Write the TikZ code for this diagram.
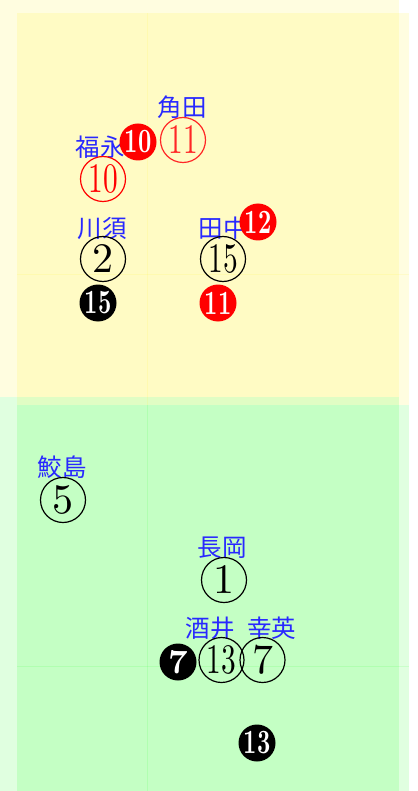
\documentclass[tikz,border=0pt]{standalone}
\usepackage{graphicx}
\usepackage{fontspec}
\newfontfamily\cjk{Noto Sans CJK JP}
\newfontfamily\numfont{lmroman10-regular.otf}
\newfontfamily\numbold{lmroman10-bold.otf}
\definecolor{lblue}{RGB}{40,40,255}
\begin{document}
\begin{tikzpicture}[x=1pt,y=-1pt,
  lbl/.style={font=\cjk\fontsize{24.5}{24.5}\selectfont, text=lblue, inner sep=0pt},
  ring/.style={circle, draw=#1, text=#1, line width=1.2pt, minimum size=45pt, inner sep=0pt, font=\numfont\fontsize{42}{42}\selectfont},
  disc/.style={circle, fill=#1, text=white, minimum size=37pt, inner sep=0pt, font=\numbold\fontsize{34}{34}\selectfont},
  panel/.style={fill=#1, fill opacity=0.12, draw=none},
  gridln/.style={draw=#1, draw opacity=0.1, line width=0.6pt}]
\useasboundingbox (0,0) rectangle (417,791);
\fill[white] (0,0) rectangle (417,791);
\path[panel=yellow] (0,0) rectangle (399,397);
\path[panel=yellow] (17,13) rectangle (409,405);
\path[panel=green] (0,397) rectangle (399,791);
\path[panel=green] (17,405) rectangle (409,791);
\draw[gridln=yellow] (147,13) -- (147,405);
\draw[gridln=yellow] (17,274) -- (409,274);
\draw[gridln=green] (147,405) -- (147,791);
\draw[gridln=green] (17,666) -- (409,666);

\node[lbl] (kakuta) at (182,107) {角田};
\node[ring=red!85!white] (n11) at (183,140) {\scalebox{0.7}[1]{11}};
\node[lbl] (fukunaga) at (100,147) {福永};
\node[disc=red] (f10) at (138,142) {\scalebox{0.68}[1]{10}};
\node[ring=red] (n10) at (103,179) {\scalebox{0.7}[1]{10}};
\node[lbl] (kawasu) at (102,228) {川須};
\node[ring=black] (n2) at (103,259) {2};
\node[disc=black] (f15) at (98,303) {\scalebox{0.68}[1]{15}};
\node[lbl] (tanaka) at (223,228) {田中};
\node[disc=red] (f12) at (258,222) {\scalebox{0.68}[1]{12}};
\node[ring=black] (n15) at (223,259) {\scalebox{0.7}[1]{15}};
\node[disc=red] (f11) at (218,303) {\scalebox{0.68}[1]{11}};

\node[lbl] (samejima) at (62,467) {鮫島};
\node[ring=black] (n5) at (63,500) {5};
\node[lbl] (nagaoka) at (222,548) {長岡};
\node[ring=black] (n1) at (224,580) {1};
\node[lbl] (sakai) at (241,628) {酒井\hspace{0.5em}幸英};
\node[disc=black] (f7) at (178,662) {7};
\node[ring=black] (n13) at (221.5,660) {\scalebox{0.7}[1]{13}};
\node[ring=black] (n7) at (262.5,660) {7};
\node[disc=black] (f13) at (257,743) {\scalebox{0.68}[1]{13}};
\end{tikzpicture}
\end{document}
